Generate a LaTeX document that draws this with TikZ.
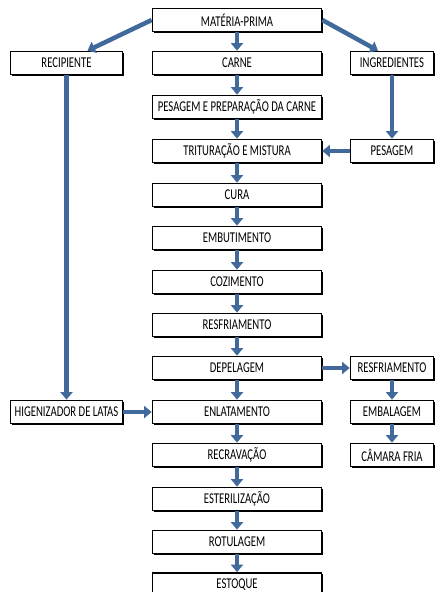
\documentclass[tikz,border=0pt]{standalone}
\usepackage{fontspec}
\setmainfont{Carlito}
\usetikzlibrary{arrows.meta,shadows}
\definecolor{arrowblue}{RGB}{65,105,156}
\newcommand\stx[1]{\scalebox{1}[1.4]{#1}}
\begin{document}
\begin{tikzpicture}[x=1pt,y=-1pt,
  box/.style={draw=black, line width=1.7pt, fill=white, minimum height=23pt, inner sep=0pt,
    font=\fontsize{10.7}{12}\selectfont,
    drop shadow={shadow xshift=1.4pt, shadow yshift=-1.4pt, fill=black, opacity=1}},
  cbox/.style={box, minimum width=169pt},
  lbox/.style={box, minimum width=112pt},
  rbox/.style={box, minimum width=83pt},
  flow/.style={draw=arrowblue, line width=4.5pt, -{Triangle[length=7.5pt,width=12pt]}}
]
\useasboundingbox (0,0) rectangle (436,592);
\clip (0,0) rectangle (436,592);
\node[cbox] (mp) at (237,20) {\stx{MATÉRIA-PRIMA}};
\node[lbox] (rec) at (66.5,63) {\stx{RECIPIENTE}};
\node[cbox] (carne) at (237,63) {\stx{CARNE}};
\node[rbox] (ing) at (392,63) {\stx{INGREDIENTES}};
\node[cbox] (pes) at (237,107) {\stx{PESAGEM E PREPARAÇÃO DA CARNE}};
\node[cbox] (tri) at (237,151) {\stx{TRITURAÇÃO E MISTURA}};
\node[rbox] (pesr) at (392,151) {\stx{PESAGEM}};
\node[cbox] (cura) at (237,195) {\stx{CURA}};
\node[cbox] (emb) at (237,238) {\stx{EMBUTIMENTO}};
\node[cbox] (coz) at (237,282) {\stx{COZIMENTO}};
\node[cbox] (resf) at (237,325) {\stx{RESFRIAMENTO}};
\node[cbox] (dep) at (237,368) {\stx{DEPELAGEM}};
\node[rbox] (resfr) at (392,368) {\stx{RESFRIAMENTO}};
\node[lbox] (hig) at (66.5,412) {\stx{HIGENIZADOR DE LATAS}};
\node[cbox] (enl) at (237,412) {\stx{ENLATAMENTO}};
\node[rbox] (emba) at (392,412) {\stx{EMBALAGEM}};
\node[cbox] (recr) at (237,455) {\stx{RECRAVAÇÃO}};
\node[rbox] (cam) at (392,455) {\stx{CÂMARA FRIA}};
\node[cbox] (este) at (237,499) {\stx{ESTERILIZAÇÃO}};
\node[cbox] (rot) at (237,542) {\stx{ROTULAGEM}};
\node[cbox] (esto) at (237,584.5) {\raisebox{1pt}{\stx{ESTOQUE}}};
% connectors
\draw[flow] (mp.west) -- ([xshift=21pt]rec.north);
\draw[flow] (mp.east) -- ([xshift=-14pt]ing.north);
\draw[flow] (mp) -- (carne);
\draw[flow] (carne) -- (pes);
\draw[flow] (pes) -- (tri);
\draw[flow] (ing) -- (pesr);
\draw[flow] (pesr) -- (tri);
\draw[flow] (tri) -- (cura);
\draw[flow] (cura) -- (emb);
\draw[flow] (emb) -- (coz);
\draw[flow] (coz) -- (resf);
\draw[flow] (resf) -- (dep);
\draw[flow] (dep) -- (resfr);
\draw[flow] (resfr) -- (emba);
\draw[flow] (emba) -- (cam);
\draw[flow] (rec) -- (hig);
\draw[flow] (hig) -- (enl);
\draw[flow] (dep) -- (enl);
\draw[flow] (enl) -- (recr);
\draw[flow] (recr) -- (este);
\draw[flow] (este) -- (rot);
\draw[flow] (rot) -- (esto);
\end{tikzpicture}
\end{document}
